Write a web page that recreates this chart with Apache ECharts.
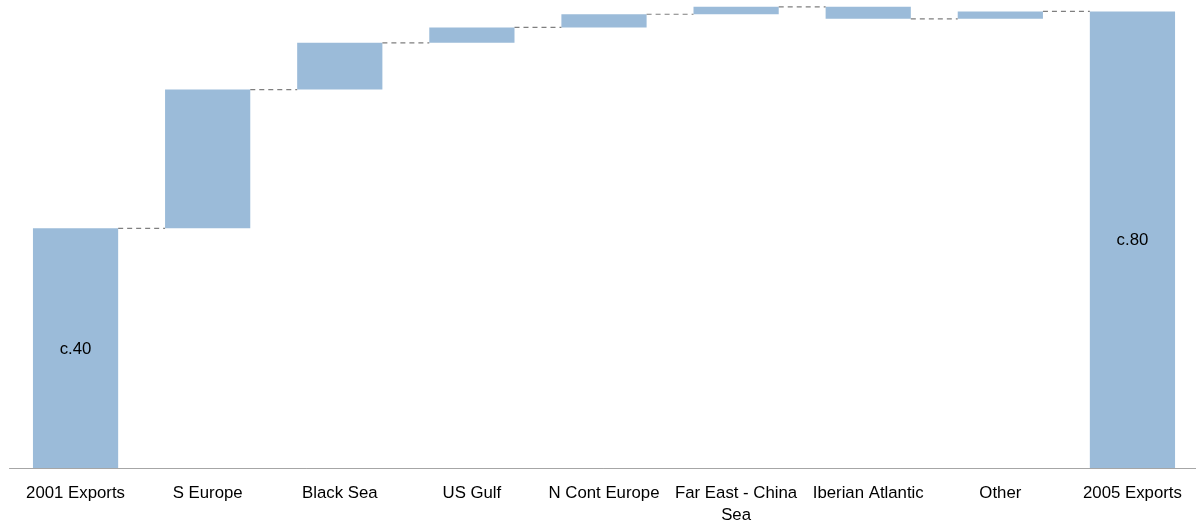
<!DOCTYPE html>
<html>
<head>
<meta charset="utf-8">
<script src="https://cdn.jsdelivr.net/npm/echarts@6/dist/echarts.min.js"></script>
<style>
  html, body { margin: 0; padding: 0; background: #fff; }
  #chart { width: 1196px; height: 523px; }
</style>
</head>
<body>
<div id="chart"></div>
<script>
// Export volumes bridge, 2001 -> 2005
const categories = ['2001 Exports', 'S Europe', 'Black Sea', 'US Gulf', 'N Cont Europe',
  'Far East - China\nSea', 'Iberian Atlantic', 'Other', '2005 Exports'];
const startTotal = 42;
const changes = [24.3, 8.2, 2.7, 2.3, 1.3, -2.1, 1.3];
const endTotal = 80;
const totalLabels = ['c.40', 'c.80'];

// Build invisible base + visible step for each column
const baseData = [];
const stepData = [];
const levels = [];
let running = startTotal;
baseData.push(0);
stepData.push(startTotal);
levels.push(running);
changes.forEach(function (c) {
  const prev = running;
  running = +(running + c).toFixed(2);
  baseData.push(Math.min(prev, running));
  stepData.push(Math.abs(c));
  levels.push(running);
});
baseData.push(0);
stepData.push(endTotal);

// Connector segments: from column i to column i+1 at running level
const connectorData = levels.map(function (v, i) { return [i, v]; });

const barColor = '#9BBBD9';
const chart = echarts.init(document.getElementById('chart'));
chart.setOption({
  animation: false,
  grid: { left: 9.5, width: 1189, top: 0, bottom: 55, containLabel: false, outerBoundsMode: 'none' },
  xAxis: {
    type: 'category',
    data: categories,
    axisLine: { lineStyle: { color: '#a6a6a6', width: 1 } },
    axisTick: { show: false },
    axisLabel: {
      interval: 0,
      color: '#000',
      fontFamily: 'Liberation Sans, Arial, sans-serif',
      fontSize: 16.8,
      lineHeight: 22,
      margin: 14
    }
  },
  yAxis: {
    type: 'value', min: 0, max: 82,
    show: false,
    splitLine: { show: false }
  },
  series: [
    {
      type: 'bar', stack: 'w', barWidth: '64.5%',
      data: baseData,
      itemStyle: { color: 'transparent' },
      silent: true
    },
    {
      type: 'bar', stack: 'w',
      data: stepData.map(function (v, i) {
        const item = { value: v };
        if (i === 0 || i === stepData.length - 1) {
          item.label = {
            show: true, position: 'inside',
            formatter: i === 0 ? totalLabels[0] : totalLabels[1],
            color: '#000', fontSize: 16.8, offset: [0, 1],
            fontFamily: 'Liberation Sans, Arial, sans-serif'
          };
        }
        return item;
      }),
      itemStyle: { color: barColor }
    },
    {
      type: 'custom',
      data: connectorData,
      z: 5,
      clip: false,
      renderItem: function (params, api) {
        const i = api.value(0);
        const v = api.value(1);
        const band = api.size([1, 0])[0];
        const half = band * 0.645 / 2;
        const p1 = api.coord([i, v]);
        const p2 = api.coord([i + 1, v]);
        return {
          type: 'line',
          shape: { x1: p1[0] + half, y1: p1[1], x2: p2[0] - half, y2: p2[1] },
          style: { stroke: '#7f7f7f', lineWidth: 1.2, lineDash: [5, 4] }
        };
      }
    }
  ]
});
</script>
</body>
</html>
